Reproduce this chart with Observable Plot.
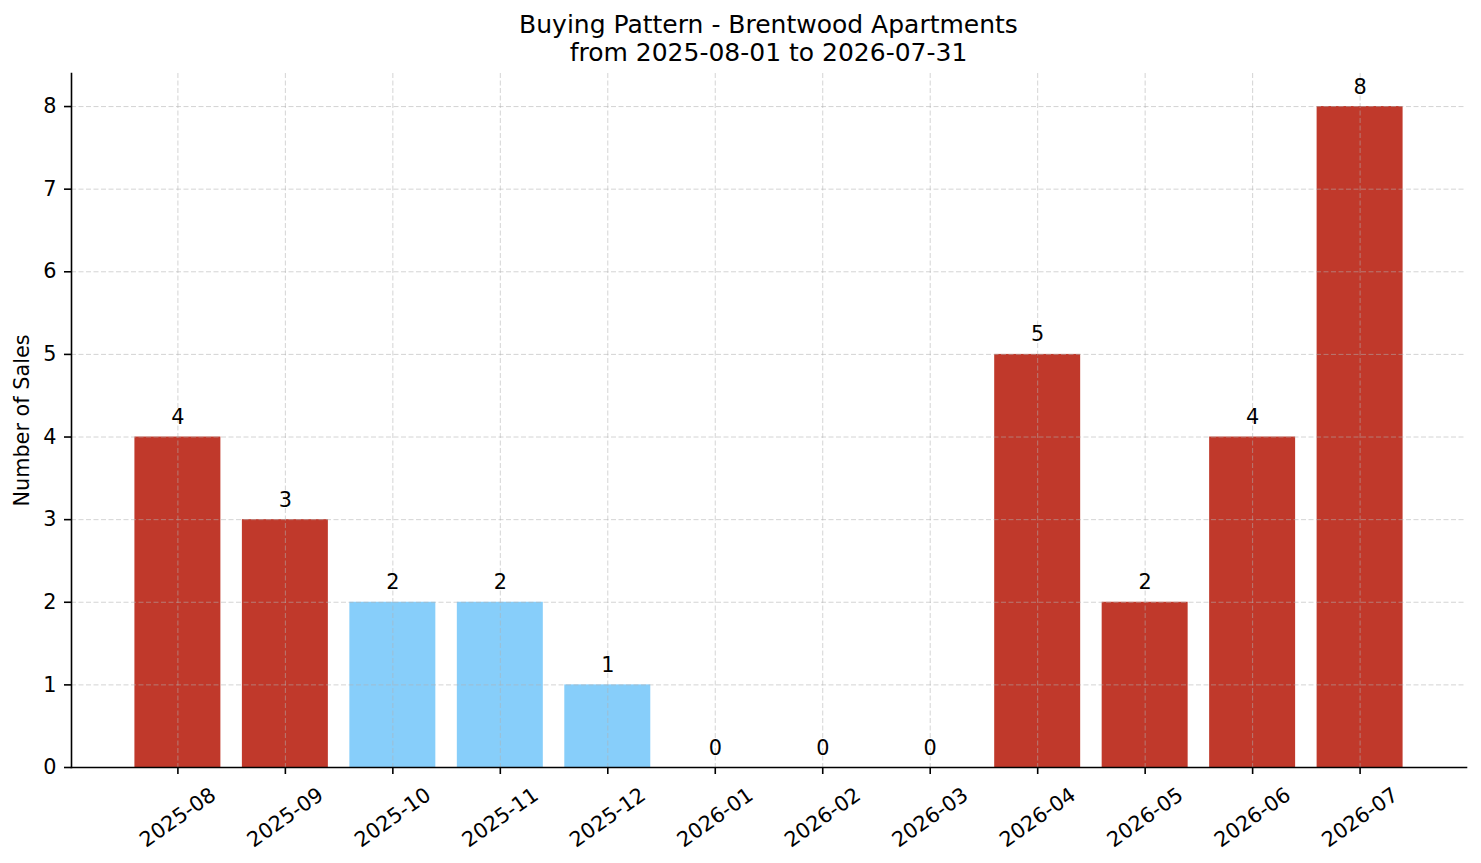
<!DOCTYPE html>
<html>
<head>
<meta charset="utf-8">
<script src="https://cdn.jsdelivr.net/npm/d3@7"></script>
<script src="https://cdn.jsdelivr.net/npm/@observablehq/plot@0.6"></script>
<style>
  html, body { margin: 0; padding: 0; background: #fff; }
  #title {
    box-sizing: border-box;
    width: 1481px; height: 67px;
    padding: 11px 15px 0 71px;
    font-family: "DejaVu Sans", sans-serif;
    font-size: 25px; line-height: 28px;
    text-align: center; color: #000;
  }
  #chart svg { display: block; }
</style>
</head>
<body>
<div id="title">Buying Pattern - Brentwood Apartments<br>from 2025-08-01 to 2026-07-31</div>
<div id="chart"></div>
<script>
const months = ["2025-08","2025-09","2025-10","2025-11","2025-12","2026-01","2026-02","2026-03","2026-04","2026-05","2026-06","2026-07"];
const sales  = [4, 3, 2, 2, 1, 0, 0, 0, 5, 2, 4, 8];
const groups = ["high","high","low","low","low","low","low","low","high","high","high","high"];
const yTicks = [0, 1, 2, 3, 4, 5, 6, 7, 8];
const yLabel = "Number of Sales";

const data = months.map((m, i) => ({month: m, sales: sales[i], group: groups[i]}));
const FS = 20.8;
const gridStyle = {stroke: "#b0b0b0", strokeOpacity: 0.55, strokeWidth: 1, strokeDasharray: "5,2.5"};

const chart = Plot.plot({
  width: 1481,
  height: 796,
  marginTop: 6,
  marginLeft: 71,
  marginRight: 15,
  marginBottom: 96,
  style: {fontFamily: "DejaVu Sans", fontSize: FS + "px", color: "#000", background: "#fff", overflow: "visible"},
  x: {type: "band", domain: months, paddingInner: 0.2, paddingOuter: 0.59, align: 0.5, round: false, label: null},
  y: {domain: [0, 8.4], label: null},
  color: {domain: ["high", "low"], range: ["#c0392b", "#87cefa"]},
  marks: [
    Plot.barY(data, {x: "month", y: "sales", fill: "group"}),
    Plot.gridX({...gridStyle}),
    Plot.gridY(yTicks, {...gridStyle}),
    Plot.axisY(yTicks, {tickSize: 7, tickPadding: 8, strokeWidth: 1.6, stroke: "#000", tickFormat: d => String(d), label: null, fontSize: FS}),
    Plot.axisX({tickSize: 7, strokeWidth: 1.6, stroke: "#000", tickFormat: () => "", label: null}),
    Plot.frame({anchor: "left", stroke: "#000", strokeWidth: 1.6}),
    Plot.frame({anchor: "bottom", stroke: "#000", strokeWidth: 1.6}),
    Plot.text(data, {x: "month", y: "sales", text: d => String(d.sales), lineAnchor: "bottom", dy: -13, fontSize: FS, fill: "#000"}),
    Plot.text(data, {x: "month", y: () => 0, text: "month", rotate: -35, dy: 50, textAnchor: "middle", lineAnchor: "middle", fontSize: FS, fill: "#000"}),
    Plot.text([yLabel], {frameAnchor: "left", text: d => d, dx: -49, rotate: -90, textAnchor: "middle", lineAnchor: "middle", fontSize: FS, fill: "#000"})
  ]
});
document.getElementById("chart").appendChild(chart);
</script>
</body>
</html>
